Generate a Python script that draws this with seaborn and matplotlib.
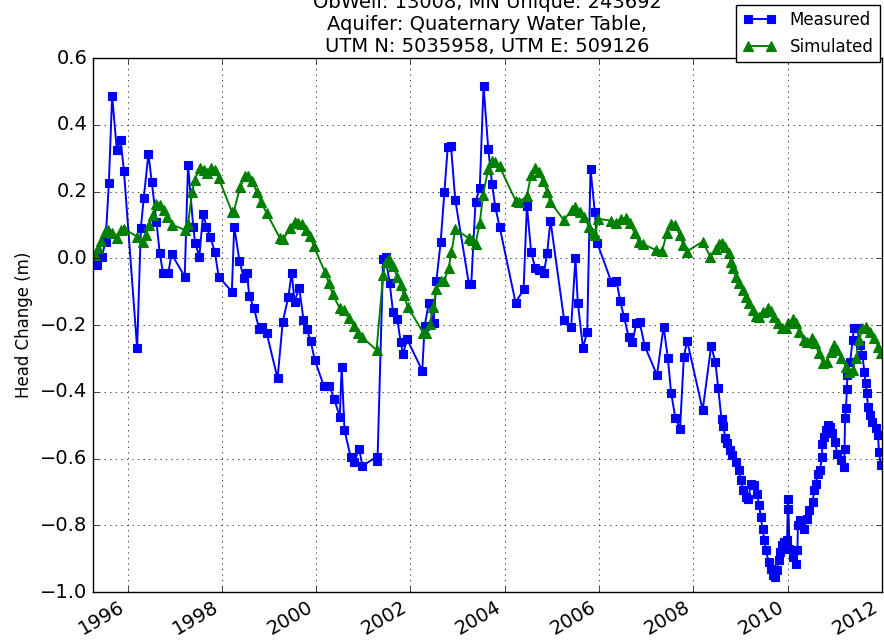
import matplotlib
matplotlib.use('Agg')
import matplotlib.pyplot as plt
import seaborn as sns

# 观测井 13008 水位变化: 实测 vs 模拟 (数值从原图读出, 单位 m)
TITLE_LINES = ['ObWell: 13008, MN Unique: 243692',
               'Aquifer: Quaternary Water Table,',
               'UTM N: 5035958, UTM E: 509126']
TICK_YEARS = [1996, 1998, 2000, 2002, 2004, 2006, 2008, 2010, 2012]
Y_TICKS = [-1.0, -0.8, -0.6, -0.4, -0.2, 0.0, 0.2, 0.4, 0.6]

meas_year = [
    1995.35, 1995.45, 1995.53, 1995.60, 1995.67, 1995.77, 1995.85, 1995.92,
    1996.20, 1996.28, 1996.34, 1996.44, 1996.51, 1996.61, 1996.68, 1996.75,
    1996.86, 1996.93, 1997.21, 1997.28, 1997.39, 1997.43, 1997.52, 1997.60,
    1997.67, 1997.75, 1997.85, 1997.93, 1998.21, 1998.26, 1998.37, 1998.46,
    1998.53, 1998.58, 1998.68, 1998.79, 1998.86, 1998.95, 1999.18, 1999.29,
    1999.41, 1999.48, 1999.54, 1999.64, 1999.73, 1999.80, 1999.88, 1999.97,
    2000.16, 2000.28, 2000.38, 2000.50, 2000.54, 2000.60, 2000.73, 2000.81,
    2000.91, 2000.98, 2001.28, 2001.30, 2001.42, 2001.47, 2001.56, 2001.63,
    2001.72, 2001.79, 2001.84, 2001.93, 2002.25, 2002.30, 2002.39, 2002.49,
    2002.55, 2002.64, 2002.72, 2002.79, 2002.86, 2002.95, 2003.24, 2003.29,
    2003.38, 2003.47, 2003.55, 2003.65, 2003.73, 2003.80, 2003.89, 2004.23,
    2004.40, 2004.47, 2004.56, 2004.65, 2004.73, 2004.83, 2004.90, 2004.97,
    2005.26, 2005.41, 2005.50, 2005.55, 2005.66, 2005.75, 2005.82, 2005.91,
    2005.96, 2006.26, 2006.37, 2006.45, 2006.53, 2006.63, 2006.71, 2006.79,
    2006.86, 2006.97, 2007.23, 2007.37, 2007.46, 2007.53, 2007.62, 2007.72,
    2007.80, 2007.87, 2008.20, 2008.38, 2008.47, 2008.53, 2008.60, 2008.64,
    2008.68, 2008.71, 2008.78, 2008.83, 2008.90, 2008.96, 2009.01, 2009.06,
    2009.12, 2009.17, 2009.22, 2009.29, 2009.35, 2009.40, 2009.43, 2009.47,
    2009.51, 2009.54, 2009.60, 2009.65, 2009.70, 2009.74, 2009.77, 2009.81,
    2009.84, 2009.88, 2009.93, 2009.99, 2010.01, 2010.02, 2010.04, 2010.11,
    2010.18, 2010.21, 2010.22, 2010.27, 2010.35, 2010.41, 2010.46, 2010.53,
    2010.57, 2010.60, 2010.64, 2010.69, 2010.73, 2010.74, 2010.78, 2010.81,
    2010.85, 2010.90, 2010.95, 2011.00, 2011.06, 2011.13, 2011.20, 2011.21,
    2011.22, 2011.24, 2011.26, 2011.27, 2011.33, 2011.38, 2011.41, 2011.48,
    2011.54, 2011.59, 2011.63, 2011.66, 2011.68, 2011.71, 2011.75, 2011.80,
    2011.87, 2011.92, 2011.94, 2011.98,
]
meas_head = [
    -0.02, 0.005, 0.05, 0.225, 0.487, 0.323, 0.355, 0.262,
    -0.27, 0.092, 0.18, 0.313, 0.23, 0.11, 0.015, -0.045,
    -0.045, 0.013, -0.055, 0.28, 0.095, 0.047, 0.005, 0.133,
    0.095, 0.065, 0.018, -0.055, -0.1, 0.095, -0.007, -0.058,
    -0.045, -0.113, -0.15, -0.213, -0.205, -0.225, -0.36, -0.19,
    -0.115, -0.043, -0.13, -0.088, -0.185, -0.213, -0.247, -0.305,
    -0.382, -0.382, -0.421, -0.475, -0.325, -0.515, -0.595, -0.61,
    -0.57, -0.622, -0.595, -0.607, -0.003, 0.003, -0.075, -0.162,
    -0.182, -0.25, -0.287, -0.243, -0.337, -0.203, -0.133, -0.193,
    -0.067, 0.048, 0.2, 0.332, 0.335, 0.175, -0.077, -0.077,
    0.17, 0.21, 0.517, 0.328, 0.222, 0.153, 0.095, -0.133,
    -0.093, 0.158, 0.018, -0.03, -0.035, -0.045, 0.015, 0.113,
    -0.185, -0.205, 0.0, -0.133, -0.268, -0.22, 0.268, 0.14,
    0.047, -0.07, -0.067, -0.128, -0.175, -0.237, -0.252, -0.195,
    -0.19, -0.263, -0.35, -0.205, -0.298, -0.403, -0.478, -0.511,
    -0.295, -0.247, -0.455, -0.262, -0.312, -0.39, -0.483, -0.503,
    -0.54, -0.553, -0.575, -0.59, -0.61, -0.635, -0.665, -0.695,
    -0.715, -0.72, -0.675, -0.68, -0.705, -0.74, -0.775, -0.81,
    -0.845, -0.875, -0.91, -0.93, -0.95, -0.955, -0.935, -0.905,
    -0.88, -0.86, -0.85, -0.845, -0.72, -0.75, -0.87, -0.895,
    -0.915, -0.875, -0.80, -0.785, -0.81, -0.78, -0.755, -0.73,
    -0.695, -0.675, -0.645, -0.635, -0.595, -0.555, -0.535, -0.515,
    -0.50, -0.505, -0.525, -0.55, -0.585, -0.605, -0.625, -0.57,
    -0.48, -0.45, -0.393, -0.35, -0.31, -0.245, -0.21, -0.21,
    -0.26, -0.29, -0.34, -0.375, -0.405, -0.445, -0.47, -0.49,
    -0.51, -0.53, -0.58, -0.62,
]

sim_year = [
    1995.30, 1995.37, 1995.44, 1995.51, 1995.59, 1995.67, 1995.77, 1995.85,
    1995.93, 1996.20, 1996.32, 1996.39, 1996.46, 1996.53, 1996.60, 1996.69,
    1996.76, 1996.84, 1996.95, 1997.21, 1997.28, 1997.37, 1997.42, 1997.53,
    1997.61, 1997.68, 1997.77, 1997.85, 1997.93, 1998.21, 1998.25, 1998.39,
    1998.49, 1998.56, 1998.63, 1998.74, 1998.83, 1998.95, 1999.23, 1999.30,
    1999.44, 1999.54, 1999.61, 1999.69, 1999.79, 1999.86, 1999.95, 2000.18,
    2000.27, 2000.35, 2000.50, 2000.59, 2000.69, 2000.80, 2000.88, 2000.98,
    2001.28, 2001.42, 2001.47, 2001.54, 2001.63, 2001.72, 2001.79, 2001.86,
    2001.94, 2002.27, 2002.32, 2002.41, 2002.48, 2002.55, 2002.64, 2002.72,
    2002.81, 2002.87, 2002.95, 2003.24, 2003.31, 2003.38, 2003.47, 2003.54,
    2003.65, 2003.73, 2003.80, 2003.89, 2004.23, 2004.31, 2004.47, 2004.56,
    2004.65, 2004.73, 2004.81, 2004.90, 2004.97, 2005.25, 2005.43, 2005.50,
    2005.59, 2005.69, 2005.78, 2005.87, 2005.92, 2005.98, 2006.26, 2006.35,
    2006.47, 2006.58, 2006.65, 2006.76, 2006.85, 2006.93, 2007.20, 2007.34,
    2007.44, 2007.53, 2007.62, 2007.71, 2007.79, 2007.86, 2008.20, 2008.36,
    2008.48, 2008.55, 2008.61, 2008.68, 2008.75, 2008.80, 2008.85, 2008.90,
    2008.98, 2009.05, 2009.12, 2009.19, 2009.26, 2009.33, 2009.40, 2009.48,
    2009.58, 2009.65, 2009.72, 2009.79, 2009.88, 2009.96, 2010.02, 2010.11,
    2010.18, 2010.25, 2010.34, 2010.42, 2010.51, 2010.58, 2010.67, 2010.76,
    2010.83, 2010.92, 2010.99, 2011.06, 2011.14, 2011.24, 2011.31, 2011.38,
    2011.45, 2011.52, 2011.59, 2011.66, 2011.75, 2011.84, 2011.93, 2011.98,
]
sim_head = [
    0.01, 0.03, 0.053, 0.08, 0.085, 0.075, 0.06, 0.085,
    0.087, 0.065, 0.05, 0.07, 0.10, 0.13, 0.163, 0.16,
    0.145, 0.125, 0.10, 0.085, 0.103, 0.20, 0.235, 0.27,
    0.265, 0.255, 0.27, 0.265, 0.24, 0.14, 0.14, 0.215,
    0.245, 0.247, 0.233, 0.20, 0.168, 0.135, 0.06, 0.057,
    0.09, 0.11, 0.107, 0.103, 0.085, 0.066, 0.036, -0.04,
    -0.075, -0.108, -0.15, -0.155, -0.18, -0.203, -0.225, -0.237,
    -0.275, -0.05, -0.01, -0.002, -0.023, -0.055, -0.08, -0.11,
    -0.145, -0.223, -0.225, -0.197, -0.147, -0.093, -0.068, -0.068,
    -0.028, 0.018, 0.087, 0.06, 0.055, 0.043, 0.105, 0.19,
    0.268, 0.29, 0.288, 0.275, 0.173, 0.168, 0.187, 0.25,
    0.27, 0.257, 0.233, 0.20, 0.168, 0.115, 0.145, 0.155,
    0.14, 0.125, 0.095, 0.075, 0.07, 0.118, 0.113, 0.107,
    0.117, 0.12, 0.105, 0.075, 0.05, 0.043, 0.025, 0.023,
    0.075, 0.102, 0.10, 0.07, 0.04, 0.02, 0.05, 0.005,
    0.027, 0.043, 0.045, 0.035, 0.015, -0.01, -0.03, -0.055,
    -0.075, -0.095, -0.115, -0.135, -0.155, -0.172, -0.175, -0.16,
    -0.15, -0.157, -0.175, -0.195, -0.21, -0.21, -0.195, -0.183,
    -0.195, -0.22, -0.245, -0.25, -0.24, -0.255, -0.285, -0.315,
    -0.31, -0.28, -0.26, -0.275, -0.30, -0.325, -0.34, -0.335,
    -0.30, -0.245, -0.21, -0.205, -0.22, -0.24, -0.265, -0.285,
]

# 老版 matplotlib 外观: 刻度朝内, 黑色点状网格
plt.style.use('classic')
plt.rcParams['font.family'] = ['DejaVu Sans']

fig = plt.figure(figsize=(8.84, 6.41), dpi=100, facecolor='white')
ax = fig.add_axes([0.105, 0.0764, 0.8925, 0.8331])

sns.lineplot(x=meas_year, y=meas_head, ax=ax, color='b', marker='s',
             markersize=5.5, mec='b', mew=0.8, lw=1.4, label='Measured',
             estimator=None, sort=False)
sns.lineplot(x=sim_year, y=sim_head, ax=ax, color='g', marker='^',
             markersize=6.5, mec='g', mew=0.8, lw=1.4, label='Simulated',
             estimator=None, sort=False)

ax.set_xlim(1995.26, 2012.0)
ax.set_ylim(-1.0, 0.6)
ax.set_xticks(TICK_YEARS)
ax.set_xticklabels([str(y) for y in TICK_YEARS], rotation=30, ha='right')
ax.set_yticks(Y_TICKS)
ax.tick_params(labelsize=14)
ax.grid(True)
ax.set_ylabel('Head Change (m)', fontsize=12)
ax.set_title('\n'.join(TITLE_LINES), fontsize=14, pad=4, linespacing=1.22)

ax.legend(loc='upper right', bbox_to_anchor=(0.998, 1.10), borderaxespad=0,
          numpoints=2, fontsize=12, fancybox=False)

fig.savefig('out.png', dpi=100, facecolor='white')
plt.close()
